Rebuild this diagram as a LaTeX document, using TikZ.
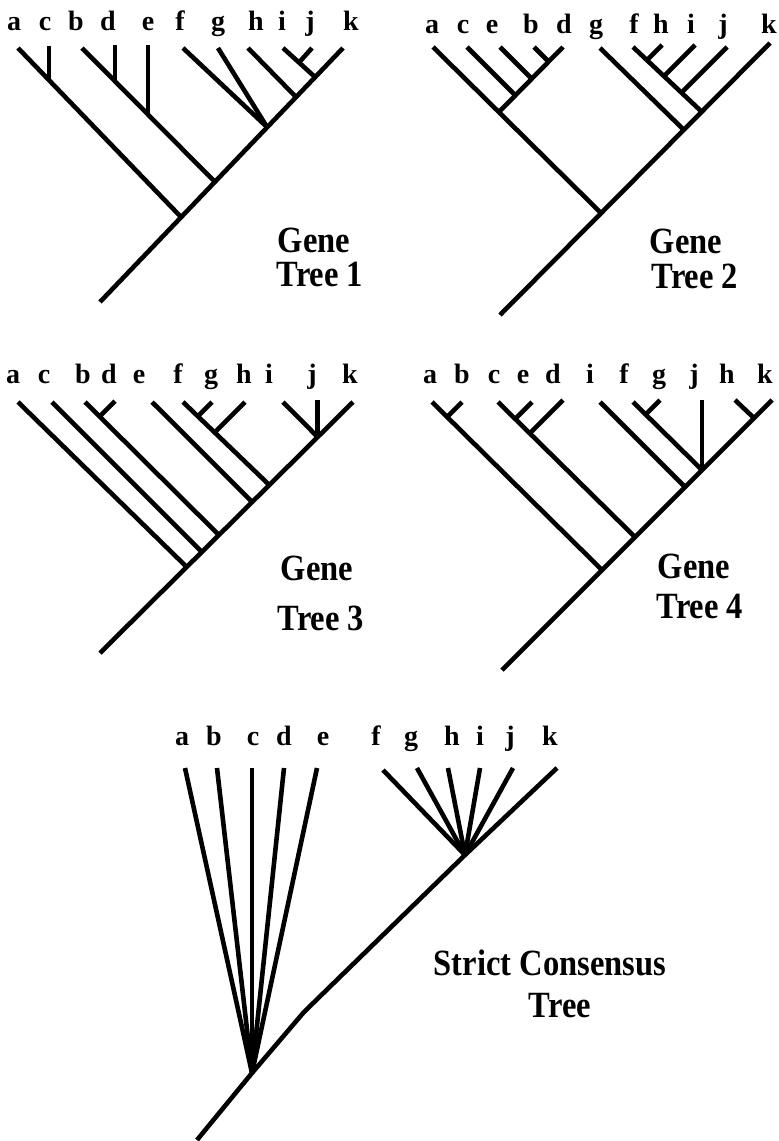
\documentclass[tikz,border=0pt]{standalone}
\usepackage{fontspec}
\setmainfont{Liberation Serif}
\newfontfamily\titlefont[FakeStretch=0.88]{Liberation Serif}
\begin{document}
\begin{tikzpicture}[x=1pt,y=-1pt,
  br/.style={line width=4.6pt},
  lab/.style={font=\fontsize{28}{28}\selectfont\bfseries, anchor=base, inner sep=0pt},
  ttl/.style={font=\titlefont\fontsize{37}{37}\selectfont\bfseries, anchor=base, inner sep=0pt}]
\useasboundingbox (0,0) rectangle (779,1141);

% ---------------- Gene Tree 1 ----------------
\coordinate (t1R) at (100,302);
\coordinate (t1k) at (343,48);
\coordinate (t1Na) at (181,217);
\coordinate (t1Nb) at (215,182);
\coordinate (t1Nf) at (267,127);
\coordinate (t1Nh) at (296,97);
\coordinate (t1Ni) at (315,77);
\coordinate (t1a) at (18,48);
\coordinate (t1c) at (49,46);
\coordinate (t1cJ) at (49,80);
\coordinate (t1b) at (82,48);
\coordinate (t1d) at (115,45);
\coordinate (t1dJ) at (115,81);
\coordinate (t1e) at (148,45);
\coordinate (t1eJ) at (148,115);
\coordinate (t1f) at (183,48);
\coordinate (t1g) at (218,48);
\coordinate (t1h) at (248,48);
\coordinate (t1i) at (283,48);
\coordinate (t1j) at (312,48);
\coordinate (t1jJ) at (299,62.5);
\draw[br] (t1R) -- (t1k);
\draw[br] (t1a) -- (t1Na);
\draw[br] (t1c) -- (t1cJ);
\draw[br] (t1b) -- (t1Nb);
\draw[br] (t1d) -- (t1dJ);
\draw[br] (t1e) -- (t1eJ);
\draw[br] (t1f) -- (t1Nf);
\draw[br] (t1g) -- (t1Nf);
\draw[br] (t1h) -- (t1Nh);
\draw[br] (t1i) -- (t1Ni);
\draw[br] (t1j) -- (t1jJ);
\node[lab] (l1a) at (14,30) {a};
\node[lab] (l1c) at (45,30) {c};
\node[lab] (l1b) at (76,30) {b};
\node[lab] (l1d) at (108,30) {d};
\node[lab] (l1e) at (148,30) {e};
\node[lab] (l1f) at (180,30) {f};
\node[lab] (l1g) at (218,30) {g};
\node[lab] (l1h) at (256,30) {h};
\node[lab] (l1i) at (282,30) {i};
\node[lab] (l1j) at (310,30) {j};
\node[lab] (l1k) at (351,30) {k};
\node[ttl] (T1a) at (314,252) {Gene};
\node[ttl] (T1b) at (320,286) {Tree 1};

% ---------------- Gene Tree 2 ----------------
\coordinate (t2R) at (500,315);
\coordinate (t2k) at (770,43);
\coordinate (t2NL) at (601,213);
\coordinate (t2Ng) at (684,130);
\coordinate (t2Nf) at (702,112);
\coordinate (t2a) at (433,47);
\coordinate (t2L0) at (499,112);
\coordinate (t2d) at (563,47);
\coordinate (t2c) at (467,47);
\coordinate (t2cJ) at (515.4,95.4);
\coordinate (t2e) at (500,47);
\coordinate (t2eJ) at (531.7,78.7);
\coordinate (t2b) at (534,47);
\coordinate (t2bJ) at (548.6,61.6);
\coordinate (t2g) at (600,48);
\coordinate (t2f) at (633,47);
\coordinate (t2h) at (662,45);
\coordinate (t2hJ) at (646.9,60.1);
\coordinate (t2i) at (695,45);
\coordinate (t2iJ) at (663.9,76.1);
\coordinate (t2j) at (727,47);
\coordinate (t2jJ) at (681.4,92.6);
\draw[br] (t2R) -- (t2k);
\draw[br] (t2a) -- (t2NL);
\draw[br] (t2L0) -- (t2d);
\draw[br] (t2c) -- (t2cJ);
\draw[br] (t2e) -- (t2eJ);
\draw[br] (t2b) -- (t2bJ);
\draw[br] (t2g) -- (t2Ng);
\draw[br] (t2f) -- (t2Nf);
\draw[br] (t2h) -- (t2hJ);
\draw[br] (t2i) -- (t2iJ);
\draw[br] (t2j) -- (t2jJ);
\node[lab] (l2a) at (432,33) {a};
\node[lab] (l2c) at (463,33) {c};
\node[lab] (l2e) at (492,33) {e};
\node[lab] (l2b) at (531,33) {b};
\node[lab] (l2d) at (564,33) {d};
\node[lab] (l2g) at (596,33) {g};
\node[lab] (l2f) at (634,33) {f};
\node[lab] (l2h) at (661,33) {h};
\node[lab] (l2i) at (691,33) {i};
\node[lab] (l2j) at (723,33) {j};
\node[lab] (l2k) at (769,33) {k};
\node[ttl] (T2a) at (686,253) {Gene};
\node[ttl] (T2b) at (695,288) {Tree 2};

% ---------------- Gene Tree 3 ----------------
\coordinate (t3R) at (100,653);
\coordinate (t3k) at (353,402);
\coordinate (t3Na) at (186.7,567);
\coordinate (t3Nc) at (201.8,552);
\coordinate (t3Nb) at (218.9,535);
\coordinate (t3Ne) at (252.2,502);
\coordinate (t3Nf) at (269.3,485);
\coordinate (t3Ni) at (317.7,437);
\coordinate (t3a) at (18,402);
\coordinate (t3c) at (52,402);
\coordinate (t3b) at (85,402);
\coordinate (t3d) at (115,401);
\coordinate (t3dJ) at (99.5,416.5);
\coordinate (t3e) at (152,402);
\coordinate (t3f) at (183,402);
\coordinate (t3g) at (212,402);
\coordinate (t3gJ) at (197.8,416.2);
\coordinate (t3h) at (245,402);
\coordinate (t3hJ) at (214.6,432.4);
\coordinate (t3i) at (283,402);
\coordinate (t3j) at (317.7,400);
\draw[br] (t3R) -- (t3k);
\draw[br] (t3a) -- (t3Na);
\draw[br] (t3c) -- (t3Nc);
\draw[br] (t3b) -- (t3Nb);
\draw[br] (t3d) -- (t3dJ);
\draw[br] (t3e) -- (t3Ne);
\draw[br] (t3f) -- (t3Nf);
\draw[br] (t3g) -- (t3gJ);
\draw[br] (t3h) -- (t3hJ);
\draw[br] (t3i) -- (t3Ni);
\draw[br] (t3j) -- (t3Ni);
\node[lab] (l3a) at (13,383) {a};
\node[lab] (l3c) at (44,383) {c};
\node[lab] (l3b) at (83,383) {b};
\node[lab] (l3d) at (109,383) {d};
\node[lab] (l3e) at (139,383) {e};
\node[lab] (l3f) at (178,383) {f};
\node[lab] (l3g) at (211,383) {g};
\node[lab] (l3h) at (244,383) {h};
\node[lab] (l3i) at (269,383) {i};
\node[lab] (l3j) at (312,383) {j};
\node[lab] (l3k) at (350,383) {k};
\node[ttl] (T3a) at (317,580) {Gene};
\node[ttl] (T3b) at (321,630) {Tree 3};

% ---------------- Gene Tree 4 ----------------
\coordinate (t4R) at (502,670);
\coordinate (t4k) at (772,400);
\coordinate (t4Na) at (602,570);
\coordinate (t4Nc) at (635,537);
\coordinate (t4Ni) at (685,487);
\coordinate (t4Nf) at (702,470);
\coordinate (t4Nh) at (754,418);
\coordinate (t4a) at (432,402);
\coordinate (t4b) at (462,402);
\coordinate (t4bJ) at (447,417);
\coordinate (t4c) at (498,402);
\coordinate (t4e) at (532,402);
\coordinate (t4eJ) at (515.4,418.6);
\coordinate (t4d) at (563,400);
\coordinate (t4dJ) at (530,433);
\coordinate (t4i) at (600,402);
\coordinate (t4f) at (633,402);
\coordinate (t4g) at (660,400);
\coordinate (t4gJ) at (645.6,414.4);
\coordinate (t4j) at (702,400);
\coordinate (t4h) at (735,400);
\draw[br] (t4R) -- (t4k);
\draw[br] (t4a) -- (t4Na);
\draw[br] (t4b) -- (t4bJ);
\draw[br] (t4c) -- (t4Nc);
\draw[br] (t4e) -- (t4eJ);
\draw[br] (t4d) -- (t4dJ);
\draw[br] (t4i) -- (t4Ni);
\draw[br] (t4f) -- (t4Nf);
\draw[br] (t4g) -- (t4gJ);
\draw[br] (t4j) -- (t4Nf);
\draw[br] (t4h) -- (t4Nh);
\node[lab] (l4a) at (430,383) {a};
\node[lab] (l4b) at (462,383) {b};
\node[lab] (l4c) at (494,383) {c};
\node[lab] (l4e) at (523,383) {e};
\node[lab] (l4d) at (553,383) {d};
\node[lab] (l4i) at (590,383) {i};
\node[lab] (l4f) at (624,383) {f};
\node[lab] (l4g) at (659,383) {g};
\node[lab] (l4j) at (694,383) {j};
\node[lab] (l4h) at (727,383) {h};
\node[lab] (l4k) at (765,383) {k};
\node[ttl] (T4a) at (694,578) {Gene};
\node[ttl] (T4b) at (700,618) {Tree 4};

% ---------------- Strict Consensus Tree ----------------
\coordinate (c5R) at (197,1140);
\coordinate (c5Nab) at (252,1073);
\coordinate (c5bend) at (304,1012);
\coordinate (c5Nf) at (465,855);
\coordinate (c5k) at (557,768);
\coordinate (c5a) at (185,768);
\coordinate (c5b) at (217,768);
\coordinate (c5c) at (252,768);
\coordinate (c5d) at (284,768);
\coordinate (c5e) at (317,768);
\coordinate (c5f) at (383,770);
\coordinate (c5g) at (417,768);
\coordinate (c5h) at (448,768);
\coordinate (c5i) at (480,768);
\coordinate (c5j) at (513,768);
\draw[br] (c5R) -- (c5Nab) -- (c5bend) -- (c5Nf) -- (c5k);
\foreach \t in {a,b,c,d,e} \draw[br] (c5\t) -- (c5Nab);
\foreach \t in {f,g,h,i,j} \draw[br] (c5\t) -- (c5Nf);
\node[lab] (l5a) at (182,745) {a};
\node[lab] (l5b) at (214,745) {b};
\node[lab] (l5c) at (253,745) {c};
\node[lab] (l5d) at (284,745) {d};
\node[lab] (l5e) at (323,745) {e};
\node[lab] (l5f) at (376,745) {f};
\node[lab] (l5g) at (411,745) {g};
\node[lab] (l5h) at (452,745) {h};
\node[lab] (l5i) at (480,745) {i};
\node[lab] (l5j) at (510,745) {j};
\node[lab] (l5k) at (550,745) {k};
\node[ttl] (T5a) at (550,975) {Strict Consensus};
\node[ttl] (T5b) at (560,1017) {Tree};
\end{tikzpicture}
\end{document}
